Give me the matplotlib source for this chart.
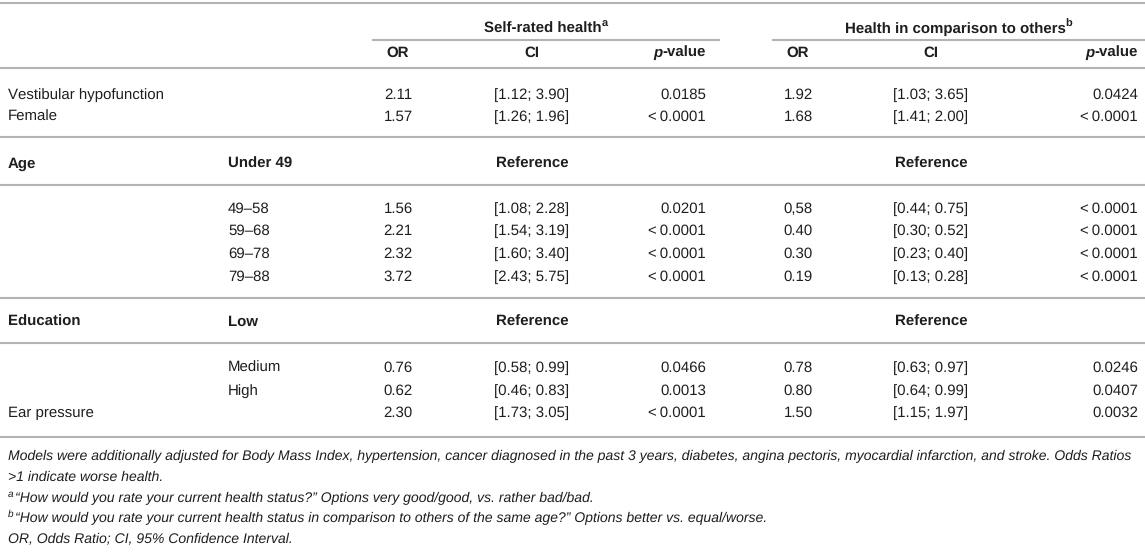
import matplotlib
matplotlib.use("Agg")
import matplotlib.pyplot as plt

plt.rcParams["text.hinting"] = "no_hinting"
plt.rcParams["text.hinting_factor"] = 1

# ---------------- data ----------------
group_titles = ["Self-rated health", "Health in comparison to others"]
group_marks = ["a", "b"]
labels = ["Vestibular hypofunction", "Female", "Age", "", "", "", "", "Education", "", "", "Ear pressure"]
sublabels = ["", "", "Under 49", "49\u201358", "59\u201368", "69\u201378", "79\u201388", "Low", "Medium", "High", ""]
is_reference = [False, False, True, False, False, False, False, True, False, False, False]
or_self = ["2.11", "1.57", "", "1.56", "2.21", "2.32", "3.72", "", "0.76", "0.62", "2.30"]
ci_self = ["[1.12; 3.90]", "[1.26; 1.96]", "", "[1.08; 2.28]", "[1.54; 3.19]", "[1.60; 3.40]",
           "[2.43; 5.75]", "", "[0.58; 0.99]", "[0.46; 0.83]", "[1.73; 3.05]"]
p_self = ["0.0185", "<\u20090.0001", "", "0.0201", "<\u20090.0001", "<\u20090.0001", "<\u20090.0001",
          "", "0.0466", "0.0013", "<\u20090.0001"]
or_comp = ["1.92", "1.68", "", "0,58", "0.40", "0.30", "0.19", "", "0.78", "0.80", "1.50"]
ci_comp = ["[1.03; 3.65]", "[1.41; 2.00]", "", "[0.44; 0.75]", "[0.30; 0.52]", "[0.23; 0.40]",
           "[0.13; 0.28]", "", "[0.63; 0.97]", "[0.64; 0.99]", "[1.15; 1.97]"]
p_comp = ["0.0424", "<\u20090.0001", "", "<\u20090.0001", "<\u20090.0001", "<\u20090.0001", "<\u20090.0001",
          "", "0.0246", "0.0407", "0.0032"]
notes = [
    ("", "Models were additionally adjusted for Body Mass Index, hypertension, cancer diagnosed in the past 3 years, diabetes, angina pectoris, myocardial infarction, and stroke. Odds Ratios"),
    ("", ">1 indicate worse health."),
    ("a", "\u201cHow would you rate your current health status?\u201d Options very good/good, vs. rather bad/bad."),
    ("b", "\u201cHow would you rate your current health status in comparison to others of the same age?\u201d Options better vs. equal/worse."),
    ("", "OR, Odds Ratio; CI, 95% Confidence Interval."),
]

# ---------------- layout ----------------
W, H = 1145, 559
FONT = ["Liberation Sans", "DejaVu Sans"]
TXT = "#1e1e1e"
RULE = "#b3b3b3"
FS = 10.7
FS_NOTE = 10.2

row_y = [95, 117, 164, 209, 231, 254, 277, 322, 368, 391, 413]
x_label, x_sub = 8, 228
groups_x = [dict(or_=398, ci=532, p=706, l=372, r=720),
            dict(or_=798, ci=931, p=1138, l=772, r=1145)]

fig = plt.figure(figsize=(W / 100, H / 100), dpi=100)
ax = fig.add_axes([0, 0, 1, 1])
ax.set_xlim(0, W)
ax.set_ylim(H, 0)
ax.axis("off")
fig.canvas.draw()
renderer = fig.canvas.get_renderer()


def t(x, y, s, ha="left", weight="normal", style="normal", size=FS):
    return ax.text(x, y, s, ha=ha, va="center", fontsize=size, fontweight=weight,
                   fontstyle=style, family=FONT, color=TXT)


def extent_x(artist):
    bb = artist.get_window_extent(renderer=renderer)
    inv = ax.transData.inverted()
    (x0, _), (x1, _) = inv.transform([(bb.x0, bb.y0), (bb.x1, bb.y1)])
    return x0, x1


def hline(y, x0=0, x1=W):
    ax.plot([x0, x1], [y, y], color=RULE, lw=1.5, solid_capstyle="butt")


# rules
for y in [3, 68, 137, 185, 298, 343, 437]:
    hline(y)
for g in groups_x:
    hline(40, g["l"], g["r"])

# group headers with superscripts (title + mark centred over the group span)
for g, title, mark in zip(groups_x, group_titles, group_marks):
    a = t(0, 29, title, weight="bold")
    m = ax.text(0, 24, mark, ha="left", va="center", fontsize=FS * 0.72,
                fontweight="bold", family=FONT, color=TXT)
    x0, x1 = extent_x(a)
    mx0, mx1 = extent_x(m)
    total = (x1 - x0) + (mx1 - mx0)
    start = (g["l"] + g["r"]) / 2 - total / 2
    a.set_x(start)
    m.set_x(start + (x1 - x0) - 0.5)

# column headers
for g in groups_x:
    t(g["or_"], 53, "OR", ha="center", weight="bold")
    t(g["ci"], 53, "CI", ha="center", weight="bold")
    v = t(g["p"], 53, "-value", ha="right", weight="bold")
    x0, _ = extent_x(v)
    t(x0, 53, "p", ha="right", weight="bold", style="italic")

# body
for i, y in enumerate(row_y):
    bold = is_reference[i]
    if labels[i]:
        t(x_label, y, labels[i], weight="bold" if bold else "normal")
    if sublabels[i]:
        t(x_sub, y, sublabels[i], weight="bold" if bold else "normal")
    if bold:
        for g in groups_x:
            t(g["ci"], y, "Reference", ha="center", weight="bold")
        continue
    for g, o, c, p in [(groups_x[0], or_self[i], ci_self[i], p_self[i]),
                       (groups_x[1], or_comp[i], ci_comp[i], p_comp[i])]:
        t(g["or_"], y, o, ha="center")
        t(g["ci"], y, c, ha="center")
        t(g["p"], y, p, ha="right")

# notes
note_y = [456, 477, 498, 518, 539]
for (mark, s), y in zip(notes, note_y):
    x = x_label
    if mark:
        m = ax.text(x, y - 4, mark, ha="left", va="center", fontsize=FS_NOTE * 0.68,
                    fontstyle="italic", family=FONT, color=TXT)
        _, x = extent_x(m)
        x += 1
    t(x, y, s, style="italic", size=FS_NOTE)

fig.savefig("out.png", dpi=100)
